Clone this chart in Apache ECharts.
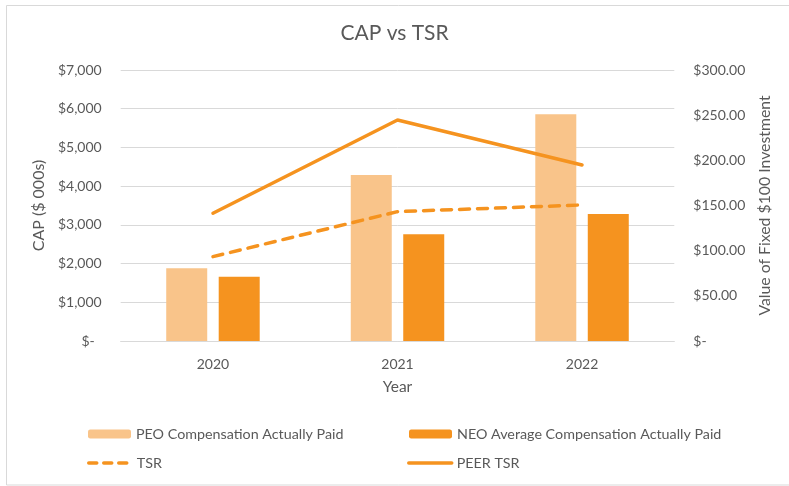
<!DOCTYPE html>
<html>
<head>
<meta charset="utf-8">
<script src="https://cdn.jsdelivr.net/npm/echarts@6/dist/echarts.min.js"></script>
<style>html,body{margin:0;padding:0;background:#fff}#c{width:789px;height:486px}</style>
</head>
<body>
<div id="c"></div>
<script>
var years = ['2020', '2021', '2022'];
var peoCap = [1880, 4290, 5860];
var neoCap = [1660, 2760, 3280];
var tsr = [93.4, 143.2, 150.6];
var peerTsr = [141.4, 244.7, 194.9];
var seriesNames = ['PEO Compensation Actually Paid', 'NEO Average Compensation Actually Paid', 'TSR', 'PEER TSR'];

var FONT = 'Lato';
var GRAY = '#595959';
var LIGHT = '#F9C48A';
var DARK = '#F5931F';

var chart = echarts.init(document.getElementById('c'), null, {renderer: 'canvas'});
function leg(name, left, top, isLine, dashed) {
  var o = {
    data: [name], left: left, top: top, orient: 'horizontal',
    itemWidth: 43, itemHeight: 9, itemGap: 0, padding: 0,
    textStyle: {color: GRAY, fontFamily: FONT, fontSize: 14.3, padding: [0, 0, 0, 0], lineHeight: 16},
    selectedMode: false
  };
  if (isLine) {
    o.itemStyle = {opacity: 0};
    o.lineStyle = {width: 3.5, cap: 'round', color: DARK, type: dashed ? [8, 7] : 'solid'};
  }
  return o;
}
chart.setOption({
  animation: false,
  backgroundColor: '#fff',
  title: {
    text: 'CAP vs TSR', left: 'center', top: 23, padding: 0,
    textStyle: {color: GRAY, fontFamily: FONT, fontSize: 21, fontWeight: 'normal'}
  },
  graphic: [{
    type: 'rect', shape: {x: 6.5, y: 5.5, width: 790, height: 479.5},
    style: {fill: 'none', stroke: '#d9d9d9', lineWidth: 1}, silent: true
  }],
  legend: [
    leg(seriesNames[0], 88, 426, false),
    leg(seriesNames[1], 409, 426, false),
    leg(seriesNames[2], 87, 455, true, true),
    leg(seriesNames[3], 407, 455, true, false)
  ],
  grid: {left: 120.7, right: 114.7, top: 70, bottom: 145},
  xAxis: {
    type: 'category', data: years,
    name: 'Year', nameLocation: 'middle', nameGap: 38,
    nameTextStyle: {color: GRAY, fontFamily: FONT, fontSize: 15.5},
    axisLine: {lineStyle: {color: '#d9d9d9'}},
    axisTick: {show: false},
    axisLabel: {color: GRAY, fontFamily: FONT, fontSize: 14, margin: 16}
  },
  yAxis: [{
    type: 'value', min: 0, max: 7000, interval: 1000, position: 'left',
    name: 'CAP ($ 000s)', nameLocation: 'middle', nameGap: 71, nameRotate: 90,
    nameTextStyle: {color: GRAY, fontFamily: FONT, fontSize: 16},
    axisLine: {show: false}, axisTick: {show: false},
    splitLine: {lineStyle: {color: '#d9d9d9', width: 1}},
    axisLabel: {
      color: GRAY, fontFamily: FONT, fontSize: 14, margin: 19,
      formatter: function (v) { return v === 0 ? '{z|$-}' : '$' + v.toLocaleString('en-US'); },
      rich: {z: {color: GRAY, fontFamily: FONT, fontSize: 14, padding: [0, 7, 0, 0]}}
    }
  }, {
    type: 'value', min: 0, max: 300, interval: 50, position: 'right',
    name: 'Value of Fixed $100 Investment', nameLocation: 'middle', nameGap: 83, nameRotate: 90,
    nameTextStyle: {color: GRAY, fontFamily: FONT, fontSize: 15.8},
    axisLine: {show: false}, axisTick: {show: false},
    splitLine: {show: false},
    axisLabel: {
      color: GRAY, fontFamily: FONT, fontSize: 14, margin: 19, align: 'left',
      formatter: function (v) { return v === 0 ? '$-' : '$' + v.toFixed(2); }
    }
  }],
  series: [{
    name: seriesNames[0], type: 'bar', data: peoCap, barWidth: 41, barGap: '28%',
    itemStyle: {color: LIGHT}, z: 2
  }, {
    name: seriesNames[1], type: 'bar', data: neoCap, barWidth: 41, barGap: '28%',
    itemStyle: {color: DARK}, z: 2
  }, {
    name: seriesNames[2], type: 'line', yAxisIndex: 1, data: tsr,
    symbol: 'none', z: 3,
    lineStyle: {color: DARK, width: 3.5, type: [10, 8], cap: 'round'},
    itemStyle: {color: DARK}
  }, {
    name: seriesNames[3], type: 'line', yAxisIndex: 1, data: peerTsr,
    symbol: 'none', z: 3,
    lineStyle: {color: DARK, width: 3.5, cap: 'round'},
    itemStyle: {color: DARK}
  }]
});
</script>
</body>
</html>
